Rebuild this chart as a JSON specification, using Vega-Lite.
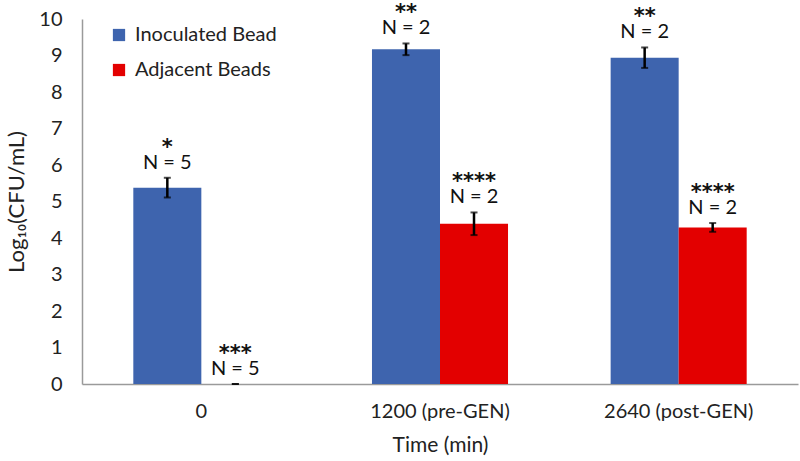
{
  "$schema": "https://vega.github.io/schema/vega-lite/v6.json",
  "autosize": "none",
  "width": 716,
  "height": 365,
  "padding": {"left": 82, "top": 19, "right": 2, "bottom": 77},
  "background": "white",
  "config": {
    "view": {"stroke": null},
    "font": "Lato",
    "text": {"font": "Lato"},
    "axisY": {
      "title": "Log₁₀(CFU/mL)", "values": [0,1,2,3,4,5,6,7,8,9,10], "labelOverlap": false, "tickCount": 11,
      "ticks": false, "grid": false, "labelFontSize": 20, "labelColor": "#222", "labelPadding": 20,
      "titleFontSize": 22, "titleFontWeight": "normal", "titleColor": "#222", "titlePadding": 10,
      "domainColor": "#9a9a9a", "domainWidth": 1.5
    }
  },
  "data": {
    "values": [
      {"time": "0", "series": "Inoculated Bead", "value": 5.38, "lo": 5.11, "hi": 5.65, "stars": "*", "n": "N = 5"},
      {"time": "0", "series": "Adjacent Beads", "value": 0, "lo": 0, "hi": 0, "stars": "***", "n": "N = 5"},
      {"time": "1200 (pre-GEN)", "series": "Inoculated Bead", "value": 9.17, "lo": 9.01, "hi": 9.33, "stars": "**", "n": "N = 2"},
      {"time": "1200 (pre-GEN)", "series": "Adjacent Beads", "value": 4.39, "lo": 4.08, "hi": 4.7, "stars": "****", "n": "N = 2"},
      {"time": "2640 (post-GEN)", "series": "Inoculated Bead", "value": 8.94, "lo": 8.66, "hi": 9.22, "stars": "**", "n": "N = 2"},
      {"time": "2640 (post-GEN)", "series": "Adjacent Beads", "value": 4.29, "lo": 4.17, "hi": 4.41, "stars": "****", "n": "N = 2"}
    ]
  },
  "encoding": {
    "x": {
      "field": "time", "type": "nominal",
      "sort": ["0", "1200 (pre-GEN)", "2640 (post-GEN)"],
      "scale": {"paddingInner": 0.43, "paddingOuter": 0.215},
      "axis": {
        "title": "Time (min)", "labelAngle": 0, "ticks": false,
        "labelFontSize": 20, "labelColor": "#222", "labelPadding": 17,
        "titleFontSize": 21, "titleFontWeight": "normal", "titleColor": "#222", "titlePadding": 13,
        "domainColor": "#9a9a9a", "domainWidth": 1.5
      }
    },
    "xOffset": {"field": "series", "type": "nominal", "sort": ["Inoculated Bead", "Adjacent Beads"]}
  },
  "layer": [
    {
      "mark": {"type": "bar"},
      "encoding": {
        "y": {
          "field": "value", "type": "quantitative",
          "scale": {"domain": [0, 10], "nice": false},
          "axis": {"title": "Log₁₀(CFU/mL)", "values": [0,1,2,3,4,5,6,7,8,9,10], "labelOverlap": false, "tickCount": 11}
        },
        "color": {
          "field": "series", "type": "nominal",
          "scale": {"domain": ["Inoculated Bead", "Adjacent Beads"], "range": ["#3e64ae", "#e30000"]},
          "legend": {
            "title": null, "orient": "none", "legendX": 27, "legendY": 6,
            "symbolType": "square", "symbolSize": 150, "symbolStrokeWidth": 0,
            "labelFontSize": 20, "labelColor": "#222", "labelOffset": 6, "rowPadding": 15
          }
        }
      }
    },
    {
      "mark": {"type": "rule", "color": "black", "strokeWidth": 2.5},
      "encoding": {
        "y": {"field": "lo", "type": "quantitative", "axis": {"title": "Log₁₀(CFU/mL)", "values": [0,1,2,3,4,5,6,7,8,9,10], "labelOverlap": false, "tickCount": 11}},
        "y2": {"field": "hi"}
      }
    },
    {
      "mark": {"type": "tick", "color": "black", "thickness": 2, "size": 7, "orient": "horizontal"},
      "encoding": {"y": {"field": "lo", "type": "quantitative", "axis": {"title": "Log₁₀(CFU/mL)", "values": [0,1,2,3,4,5,6,7,8,9,10], "labelOverlap": false, "tickCount": 11}}}
    },
    {
      "mark": {"type": "tick", "color": "black", "thickness": 2, "size": 7, "orient": "horizontal"},
      "encoding": {"y": {"field": "hi", "type": "quantitative", "axis": {"title": "Log₁₀(CFU/mL)", "values": [0,1,2,3,4,5,6,7,8,9,10], "labelOverlap": false, "tickCount": 11}}}
    },
    {
      "mark": {"type": "text", "fontSize": 20, "color": "#111", "baseline": "alphabetic", "dy": -9},
      "encoding": {
        "y": {"field": "hi", "type": "quantitative", "axis": {"title": "Log₁₀(CFU/mL)", "values": [0,1,2,3,4,5,6,7,8,9,10], "labelOverlap": false, "tickCount": 11}},
        "text": {"field": "n"}
      }
    },
    {
      "mark": {"type": "text", "font": "DejaVu Sans", "fontSize": 21, "fontWeight": "bold", "color": "#111", "baseline": "alphabetic", "dy": -24},
      "encoding": {
        "y": {"field": "hi", "type": "quantitative", "axis": {"title": "Log₁₀(CFU/mL)", "values": [0,1,2,3,4,5,6,7,8,9,10], "labelOverlap": false, "tickCount": 11}},
        "text": {"field": "stars"}
      }
    }
  ]
}
